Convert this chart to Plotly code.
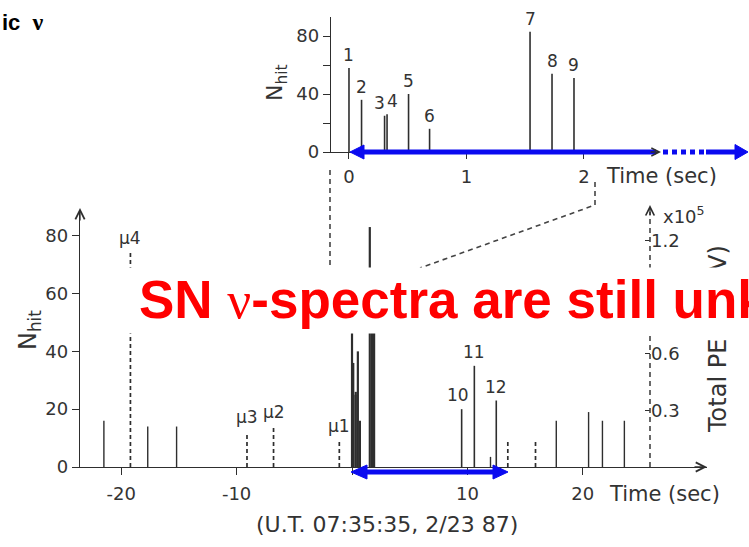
import plotly.graph_objects as go

W, H = 749, 547

# Kamiokande-II burst events (top panel: first 2 s, bottom panel: full window)
burst_ids = ["1", "2", "3", "4", "5", "6", "7", "8", "9"]
burst_t = [0.0, 0.107, 0.303, 0.324, 0.507, 0.686, 1.541, 1.728, 1.915]
burst_nhit = [58, 36, 25, 26, 40, 16, 83, 54, 51]

late_ids = ["10", "11", "12"]
late_t = [9.5, 10.6, 12.5]
late_nhit = [20, 35, 23]

# other low-energy triggers in the +-30 s window
bg_t = [-21.5, -17.7, -15.2, 12.0, 17.7, 20.5, 21.7, 23.6]
bg_nhit = [16, 14, 14, 3.5, 16, 19, 16, 16]

# muon / flagged triggers (dashed)
mu_labels = ["μ4", "μ3", "μ2", "μ1", "", ""]
mu_t = [-19.2, -9.1, -6.8, -1.1, 13.5, 15.9]
mu_nhit = [74, 12, 14, 9, 9, 9]

top_yticks = [0, 20, 40, 60, 80]
top_yticktext = ["0", "", "40", "", "80"]
top_xticks = [0, 1, 2]
bot_yticks = [0, 20, 40, 60, 80]
bot_xticks = [-20, -10, 0, 10, 20]
bot_xticktext = ["-20", "-10", "", "10", "20"]
pe_ticks = [0.3, 0.6, 1.2]
pe_ticktext = ["0.3", "0.6", "1.2"]

INK = "#2e2e2e"
FONT = "DejaVu Sans"
BLUE = "#0a0af0"


def px(x):
    return x / W


def py(y):
    return 1 - y / H


def stems(ts, ns):
    xs, ys = [], []
    for t, n in zip(ts, ns):
        xs += [t, t, None]
        ys += [0, n, None]
    return xs, ys


fig = go.Figure()

# ---- top panel ----
xs, ys = stems(burst_t, burst_nhit)
fig.add_trace(go.Scatter(x=xs, y=ys, mode="lines", xaxis="x", yaxis="y",
                         line=dict(color=INK, width=1.6), hoverinfo="skip"))

# ---- bottom panel ----
xs, ys = stems(bg_t, bg_nhit)
fig.add_trace(go.Scatter(x=xs, y=ys, mode="lines", xaxis="x2", yaxis="y2",
                         line=dict(color=INK, width=1.4), hoverinfo="skip"))
xs, ys = stems(mu_t, mu_nhit)
fig.add_trace(go.Scatter(x=xs, y=ys, mode="lines", xaxis="x2", yaxis="y2",
                         line=dict(color=INK, width=1.7, dash="4px,3px"), hoverinfo="skip"))
xs, ys = stems(burst_t, burst_nhit)
fig.add_trace(go.Scatter(x=xs, y=ys, mode="lines", xaxis="x2", yaxis="y2",
                         line=dict(color=INK, width=2.2), hoverinfo="skip"))
xs, ys = stems(late_t, late_nhit)
fig.add_trace(go.Scatter(x=xs, y=ys, mode="lines", xaxis="x2", yaxis="y2",
                         line=dict(color=INK, width=1.6), hoverinfo="skip"))
# empty trace to activate the Total-PE axis
fig.add_trace(go.Scatter(x=[None], y=[None], xaxis="x2", yaxis="y3", showlegend=False))

tickfont = dict(family=FONT, size=18, color="#333")
axis_common = dict(showgrid=False, zeroline=False, showline=True, linecolor=INK,
                   linewidth=1.3, ticks="outside", tickcolor=INK, tickwidth=1.3,
                   tickfont=tickfont, automargin=False)

fig.update_layout(
    width=W, height=H, autosize=False,
    margin=dict(l=0, r=0, t=0, b=0, pad=0, autoexpand=False),
    paper_bgcolor="white", plot_bgcolor="rgba(0,0,0,0)",
    showlegend=False,
    xaxis=dict(domain=[px(331), px(658)], range=[-0.153, 2.63], anchor="y",
               tickvals=top_xticks, ticklen=6, ticklabelstandoff=2, **axis_common),
    yaxis=dict(domain=[py(152), py(17)], range=[0, 93.1], anchor="x",
               tickvals=top_yticks, ticktext=top_yticktext, ticklen=7, **axis_common),
    xaxis2=dict(domain=[px(80), px(707)], range=[-23.57, 30.76], anchor="y2",
                tickvals=bot_xticks, ticktext=bot_xticktext, ticklen=7,
                ticklabelstandoff=3, **axis_common),
    yaxis2=dict(domain=[py(467), py(210)], range=[0, 88.9], anchor="x2",
                tickvals=bot_yticks, ticklen=7, **axis_common),
    yaxis3=dict(overlaying="y2", anchor="free", position=px(650), side="right",
                range=[0, 1.36], tickvals=pe_ticks, ticktext=pe_ticktext,
                showgrid=False, zeroline=False, showline=False, ticks="inside",
                ticklen=5, tickcolor=INK, tickwidth=1.3, tickfont=tickfont,
                automargin=False),
)

shapes = []
dash_line = dict(color="#444", width=1.6, dash="5px,4px")
# Total PE axis (dashed)
shapes.append(dict(type="line", xref="paper", yref="paper", x0=px(650), x1=px(650),
                   y0=py(467), y1=py(212), line=dash_line, layer="above"))
# zoom connectors between the two panels
shapes.append(dict(type="line", xref="paper", yref="paper", x0=px(330), x1=px(330),
                   y0=py(170), y1=py(300), line=dash_line, layer="above"))
shapes.append(dict(type="path", xref="paper", yref="paper",
                   path=f"M{px(595)},{py(182)} L{px(595)},{py(205)} L{px(420)},{py(268)}",
                   line=dash_line, layer="above"))


# blue double arrows
def hline(x0, x1, y, dash=None, width=5):
    ln = dict(color=BLUE, width=width)
    if dash:
        ln["dash"] = dash
    return dict(type="line", xref="paper", yref="paper", x0=px(x0), x1=px(x1),
                y0=py(y), y1=py(y), line=ln, layer="above")


def head(tip, back, y, half):
    path = (f"M{px(tip)},{py(y)} L{px(back)},{py(y - half)} "
            f"L{px(back)},{py(y + half)} Z")
    return dict(type="path", xref="paper", yref="paper", path=path,
                fillcolor=BLUE, line=dict(color=BLUE, width=1), layer="above")


shapes += [
    hline(362, 656, 152), hline(663, 706, 152, dash="5px,4px"), hline(706, 737, 152),
    head(350, 364, 152, 7), head(748, 735, 152, 7.5),
    hline(365, 494, 472), head(351, 367, 472, 7), head(508, 493, 472, 7),
]
fig.update_layout(shapes=shapes)

ann = []
lbl_font = dict(family=FONT, size=17, color="#333")
for i, t, n in zip(burst_ids, burst_t, burst_nhit):
    shift = {"3": -5, "4": 5}.get(i, 0)
    ann.append(dict(x=t, y=n, xref="x", yref="y", text=i, showarrow=False,
                    xanchor="center", yanchor="bottom", yshift=1, xshift=shift, font=lbl_font))
for i, t, n in zip(late_ids, late_t, late_nhit):
    shift = {"10": -4}.get(i, 0)
    ann.append(dict(x=t, y=n, xref="x2", yref="y2", text=i, showarrow=False,
                    xanchor="center", yanchor="bottom", yshift=2, xshift=shift, font=lbl_font))
for lab, t, n in zip(mu_labels, mu_t, mu_nhit):
    if lab:
        ann.append(dict(x=t, y=n, xref="x2", yref="y2", text=lab, showarrow=False,
                        xanchor="center", yanchor="bottom", yshift=3, font=lbl_font))


def note(x, y, text, size, xanchor="center", angle=0, **kw):
    return dict(x=px(x), y=py(y), xref="paper", yref="paper", text=text,
                showarrow=False, xanchor=xanchor, yanchor="middle", textangle=angle,
                font=dict(family=FONT, size=size, color=kw.pop("color", "#333"),
                          weight=kw.pop("weight", "normal")), **kw)


def arrow(x, y, ax, ay, size=1.4):
    return dict(x=px(x), y=py(y), xref="paper", yref="paper", ax=ax, ay=ay, text="",
                showarrow=True, arrowhead=5, arrowsize=size, arrowwidth=1.3, arrowcolor=INK)


ann += [
    note(604, 176, "Time (sec)", 21, xanchor="left"),
    note(607, 494, "Time (sec)", 21, xanchor="left"),
    note(387, 524, "(U.T. 07:35:35, 2/23 87)", 22),
    note(276, 83, "N<sub>hit</sub>", 22, angle=-90),
    note(29, 330, "N<sub>hit</sub>", 24, angle=-90),
    note(661, 215, "x10<sup>5</sup>", 18, xanchor="left"),
    note(718, 339, "Total PE\u00a0\u00a0\u00a0(MeV)", 24, angle=-90),
    # axis arrows
    arrow(707, 467, -14, 0),
    arrow(80, 208, 0, 14),
    arrow(650, 205, 0, 12, size=1.3),
    arrow(661, 152, -12, 0, size=1.2),
    dict(x=0, y=py(22), xref="paper", yref="paper", xanchor="left", yanchor="middle",
         text="ic\u00a0\u00a0<span style='font-family:Liberation Serif;font-size:24px'>ν</span>",
         showarrow=False,
         font=dict(family="Liberation Sans", size=22, color="black", weight="bold")),
    # white banner with the headline
    dict(x=px(113), y=py(267), xref="paper", yref="paper", xanchor="left", yanchor="top",
         text=" ", showarrow=False, width=W - 113, height=65, bgcolor="white", borderpad=0,
         font=dict(size=10)),
    dict(x=px(137), y=py(299), xref="paper", yref="paper", xanchor="left", yanchor="middle",
         text="SN <span style='font-family:Liberation Serif;font-weight:normal'>ν</span>-spectra are still unknown",
         showarrow=False, font=dict(family="Liberation Sans", size=53, color="#ff0000",
                                    weight="bold")),
]
fig.update_layout(annotations=ann)

fig.write_html("out.html")
